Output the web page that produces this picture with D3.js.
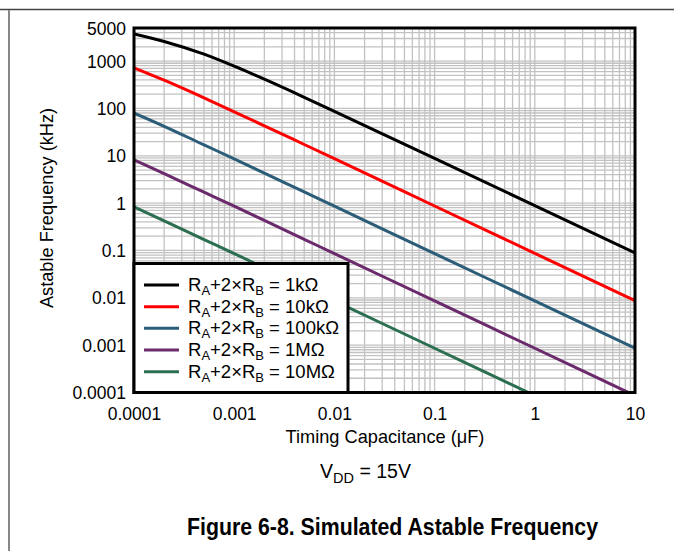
<!DOCTYPE html>
<html>
<head>
<meta charset="utf-8">
<script src="https://cdn.jsdelivr.net/npm/d3@7"></script>
<style>
  html, body { margin: 0; padding: 0; background: #fff; }
  svg { display: block; font-family: "Liberation Sans", Arial, sans-serif; }
</style>
</head>
<body>
<svg id="chart" width="674" height="551"></svg>
<script>
// ---- data ----
const capacitance = [0.0001, 0.0002, 0.0005, 0.001, 0.002, 0.005, 0.01, 0.1, 1, 10]; // µF
const freq1k   = [3750, 2600, 1400, 780, 414, 172, 87, 8.8, 0.885, 0.0885];       // kHz
const freq10k  = [720, 394, 167, 85, 43, 17.3, 8.68, 0.87, 0.087, 0.0087];
const freq100k = [80, 42, 17, 8.6, 4.3, 1.72, 0.86, 0.086, 0.0086, 0.00086];
const freq1M   = [8.2, 4.2, 1.7, 0.86, 0.43, 0.172, 0.086, 0.0086, 0.00086, 0.000086];
const freq10M  = [0.83, 0.42, 0.17, 0.086, 0.043, 0.0172, 0.0086, 0.00086, 0.000086, 0.0000086];
const seriesNames = ["1kΩ", "10kΩ", "100kΩ", "1MΩ", "10MΩ"];
const seriesColors = ["#000000", "#ff0000", "#2b5c78", "#6a2a6c", "#2b6e50"];
const xTicks = [0.0001, 0.001, 0.01, 0.1, 1, 10];
const xTickLabels = ["0.0001", "0.001", "0.01", "0.1", "1", "10"];
const yTicks = [0.0001, 0.001, 0.01, 0.1, 1, 10, 100, 1000, 5000];
const yTickLabels = ["0.0001", "0.001", "0.01", "0.1", "1", "10", "100", "1000", "5000"];

const allSeries = [freq1k, freq10k, freq100k, freq1M, freq10M];

const svg = d3.select("#chart");
const L = 134, R = 635, T = 28, B = 392.5;
const x = d3.scaleLog().domain([0.0001, 10]).range([L, R]);
const y = d3.scaleLog().domain([0.0001, 5000]).range([B, T]);

// page frame lines
svg.append("line").attr("x1", 0).attr("x2", 674).attr("y1", 9.5).attr("y2", 9.5)
  .attr("stroke", "#444").attr("stroke-width", 1.5);
svg.append("line").attr("x1", 9).attr("x2", 9).attr("y1", 10).attr("y2", 551)
  .attr("stroke", "#888").attr("stroke-width", 2);

// grid
const xGrid = [];
for (let e = -4; e <= 0; e++) for (let m = 1; m <= 9; m++) xGrid.push(m * Math.pow(10, e));
const yGrid = [];
for (let e = -4; e <= 3; e++) for (let m = 1; m <= 9; m++) { const v = m * Math.pow(10, e); if (v <= 5000) yGrid.push(v); }
const grid = svg.append("g").attr("stroke", "#c2c2c2").attr("stroke-width", 1.3);
grid.selectAll(".gx").data(xGrid).join("line")
  .attr("x1", d => x(d)).attr("x2", d => x(d)).attr("y1", T).attr("y2", B);
grid.selectAll(".gy").data(yGrid).join("line")
  .attr("x1", L).attr("x2", R).attr("y1", d => y(d)).attr("y2", d => y(d));

// clip
svg.append("clipPath").attr("id", "clip").append("rect")
  .attr("x", L).attr("y", T).attr("width", R - L).attr("height", B - T);

const line = d3.line()
  .x((d, i) => x(capacitance[i]))
  .y(d => y(d))
  .curve(d3.curveMonotoneX);

svg.append("g").attr("clip-path", "url(#clip)")
  .selectAll("path").data(allSeries).join("path")
  .attr("d", d => line(d))
  .attr("fill", "none")
  .attr("stroke", (d, i) => seriesColors[i])
  .attr("stroke-width", 3);

// axes via d3 axis generators (labels only)
const xAxis = d3.axisBottom(x).tickValues(xTicks).tickFormat((d, i) => xTickLabels[i]).tickSize(0).tickPadding(0);
const gx = svg.append("g").attr("transform", `translate(0,${B})`).call(xAxis);
gx.select(".domain").remove();
gx.selectAll("text").attr("font-size", 17.5).attr("fill", "#000")
  .attr("font-family", "Liberation Sans, Arial, sans-serif").attr("dy", 0).attr("y", 27.5);

const yAxis = d3.axisLeft(y).tickValues(yTicks).tickFormat((d, i) => yTickLabels[i]).tickSize(0).tickPadding(0);
const gy = svg.append("g").attr("transform", `translate(126,0)`).call(yAxis);
gy.select(".domain").remove();
gy.selectAll("text").attr("font-size", 17.5).attr("fill", "#000")
  .attr("font-family", "Liberation Sans, Arial, sans-serif").attr("x", 0).attr("dy", "0.35em");

// plot frame
svg.append("rect").attr("x", L).attr("y", T).attr("width", R - L).attr("height", B - T)
  .attr("fill", "none").attr("stroke", "#000").attr("stroke-width", 3);

// axis titles
svg.append("text").attr("x", 385).attr("y", 443).attr("text-anchor", "middle")
  .attr("font-size", 18.2).text("Timing Capacitance (μF)");
svg.append("text").attr("transform", "translate(53,208) rotate(-90)").attr("text-anchor", "middle")
  .attr("font-size", 18.2).text("Astable Frequency (kHz)");

// legend
const lg = svg.append("g");
lg.append("rect").attr("x", 134).attr("y", 263.5).attr("width", 214).attr("height", 129)
  .attr("fill", "#fff").attr("stroke", "#000").attr("stroke-width", 3);
const rowY = d3.scaleLinear().domain([0, 4]).range([285, 371.7]);
seriesNames.forEach((name, i) => {
  const yy = rowY(i);
  lg.append("line").attr("x1", 144).attr("x2", 179).attr("y1", yy).attr("y2", yy)
    .attr("stroke", seriesColors[i]).attr("stroke-width", 3);
  const t = lg.append("text").attr("x", 188).attr("y", yy + 6).attr("font-size", 18.5);
  t.append("tspan").text("R");
  t.append("tspan").attr("font-size", 13).attr("dy", 4).text("A");
  t.append("tspan").attr("dy", -4).text("+2×R");
  t.append("tspan").attr("font-size", 13).attr("dy", 4).text("B");
  t.append("tspan").attr("dy", -4).text(" = " + name);
});

// VDD note
const v = svg.append("text").attr("x", 365.5).attr("y", 478).attr("text-anchor", "middle").attr("font-size", 19.5);
v.append("tspan").text("V");
v.append("tspan").attr("font-size", 14.5).attr("dy", 5).text("DD");
v.append("tspan").attr("dy", -5).text(" = 15V");

// caption
svg.append("text").attr("x", 392.5).attr("y", 535).attr("text-anchor", "middle")
  .attr("font-size", 23).attr("font-weight", "bold")
  .attr("textLength", 411).attr("lengthAdjust", "spacingAndGlyphs")
  .text("Figure 6-8. Simulated Astable Frequency");
</script>
</body>
</html>
